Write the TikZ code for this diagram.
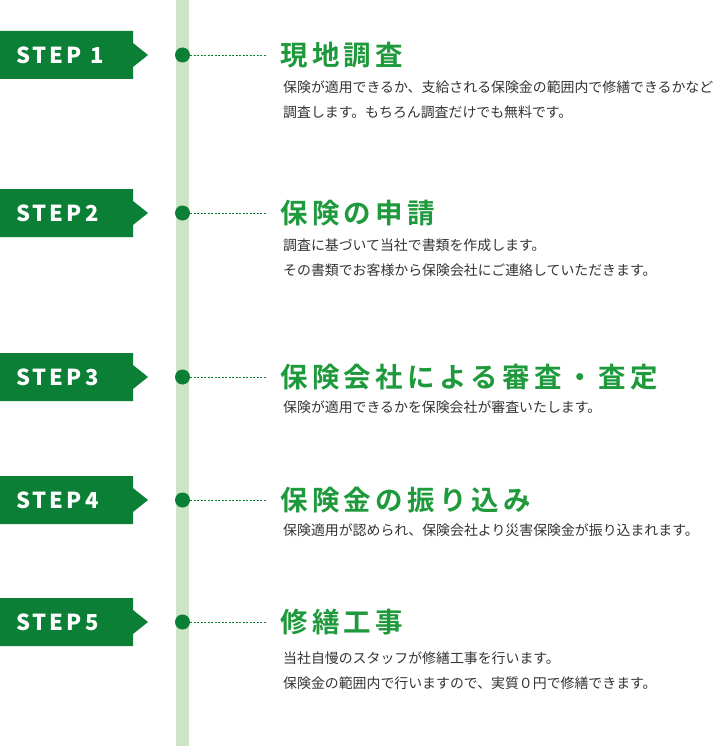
\documentclass[tikz,border=0pt]{standalone}
\usepackage{fontspec}
\setmainfont{Noto Sans CJK JP}
\newfontfamily\jpb{Noto Sans CJK JP Bold}[LetterSpace=16]
\newfontfamily\stepf{Noto Sans CJK JP Black}[LetterSpace=14]
\definecolor{dgreen}{HTML}{0B7F36}
\definecolor{tgreen}{HTML}{1E9A3C}
\definecolor{bar}{HTML}{CDE4C6}
\definecolor{txt}{HTML}{333333}
\tikzset{
 stepbox/.style={fill=dgreen},
 steplbl/.style={text=white,font=\stepf\fontsize{22}{22}\selectfont,anchor=west,inner sep=0},
 dot/.style={circle,fill=dgreen,minimum size=15pt,inner sep=0},
 title/.style={text=tgreen,font=\jpb\fontsize{27.5}{27.5}\selectfont,anchor=west,inner sep=0},
 body/.style={text=txt,font=\fontsize{13.9}{24.5}\selectfont,anchor=north west,inner sep=0,align=left},
 dline/.style={dgreen,dash pattern=on 2pt off 1.5pt,line width=0.7pt}
}
\begin{document}
\begin{tikzpicture}[x=1pt,y=-1pt]
\useasboundingbox (0,0) rectangle (717,746);
\fill[bar] (176,0) rectangle (189,746);
\foreach \i/\y/\t in {1/55/{STEP 1},2/213/STEP2,3/377/STEP3,4/500/STEP4,5/622/STEP5}{
  \fill[stepbox] (0,\y-24) -- (133,\y-24) -- (133,\y-12) -- (148,\y) -- (133,\y+12) -- (133,\y+24) -- (0,\y+24) -- cycle;
  \node[steplbl] (s\i) at (16,\y) {\t};
  \node[dot] (d\i) at (182.5,\y) {};
  \coordinate (e\i) at (266,\y);
  \draw[dline] (d\i) -- (e\i);
}
\node[title] (t1) at (280,55) {現地調査};
\node[body] (b1) at (283,81) {保険が適用できるか、支給される保険金の範囲内で修繕できるかなど\\調査します。もちろん調査だけでも無料です。};
\node[title] (t2) at (280,213) {保険の申請};
\node[body] (b2) at (283,239) {調査に基づいて当社で書類を作成します。\\その書類でお客様から保険会社にご連絡していただきます。};
\node[title] (t3) at (280,377) {保険会社による審査・査定};
\node[body] (b3) at (283,401) {保険が適用できるかを保険会社が審査いたします。};
\node[title] (t4) at (280,500) {保険金の振り込み};
\node[body] (b4) at (283,524) {保険適用が認められ、保険会社より災害保険金が振り込まれます。};
\node[title] (t5) at (280,622) {修繕工事};
\node[body] (b5) at (283,652) {当社自慢のスタッフが修繕工事を行います。\\保険金の範囲内で行いますので、実質０円で修繕できます。};
\end{tikzpicture}
\end{document}
